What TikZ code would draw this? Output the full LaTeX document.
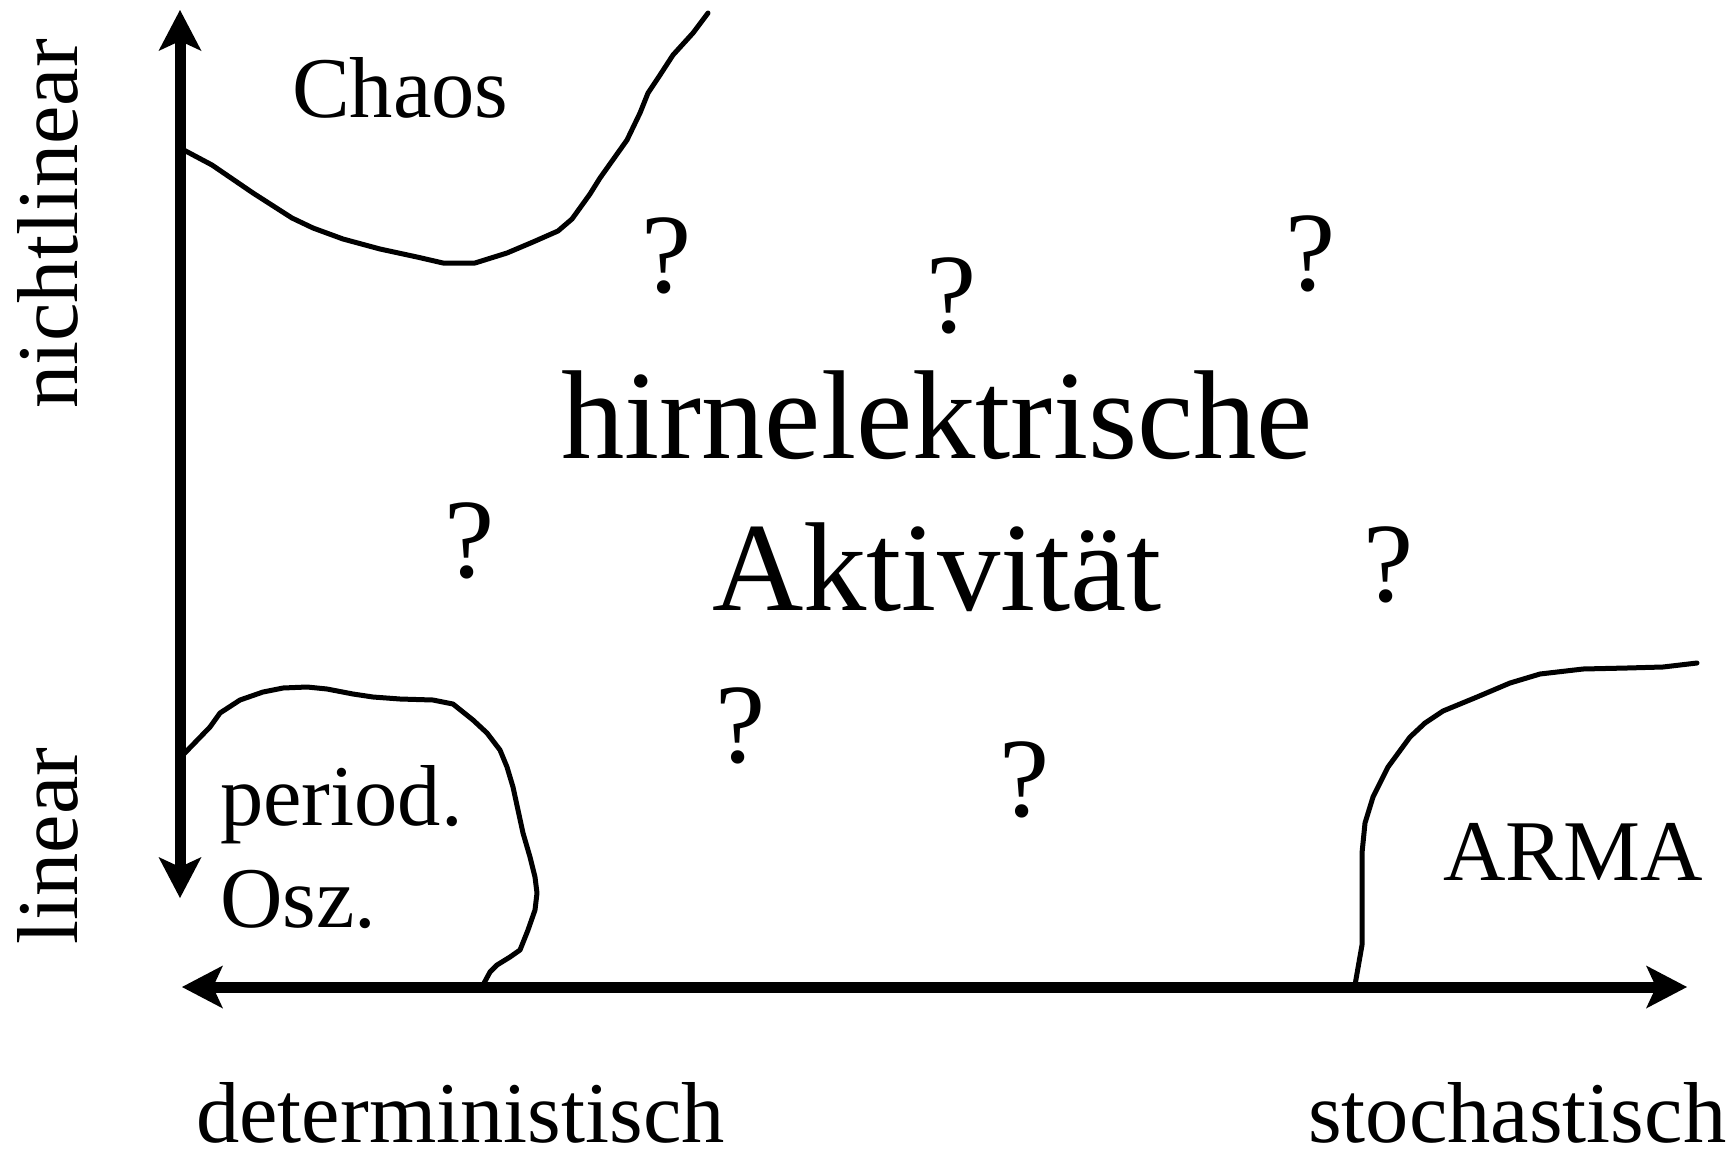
\documentclass[tikz,border=0pt]{standalone}
\usepackage{fontspec}
\setmainfont{Liberation Serif}
\usetikzlibrary{arrows.meta}
\begin{document}
\begin{tikzpicture}[x=1pt,y=-1pt,
  tip/.tip={Stealth[length=41pt,width=43pt,inset=10pt,line width=0pt]},
  axis/.style={line width=11pt,tip-tip},
  region/.style={line width=5pt,line join=round,line cap=round},
  lbl/.style={inner sep=0pt,anchor=base west,font=\fontsize{86.5}{104}\selectfont},
  side/.style={inner sep=0pt,anchor=base,rotate=90,font=\fontsize{86.5}{104}\selectfont},
  big/.style={inner sep=0pt,anchor=base,font=\fontsize{126.5}{151}\selectfont},
  qm/.style={inner sep=0pt,anchor=base,font=\fontsize{113}{136}\selectfont}]
\useasboundingbox (0,0) rectangle (1735,1149);

% axes
\coordinate (ytop) at (180,10);
\coordinate (ybot) at (180,898);
\coordinate (xleft) at (182,987);
\coordinate (xright) at (1687,987);
\draw[axis] (ytop) -- (ybot);
\draw[axis] (xleft) -- (xright);

% region boundaries
\draw[region] (180,148) -- (212,165) -- (253,193) -- (292,218) -- (313,228)
  -- (343,239) -- (380,249) -- (417,257) -- (443,263) -- (475,263) -- (507,253)
  -- (533,242) -- (558,231) -- (572,219) -- (590,194) -- (600,178) -- (627,140)
  -- (640,113) -- (648,93) -- (660,75) -- (673,55) -- (693,33) -- (708,13);

\draw[region] (180,758) -- (210,727) -- (220,713) -- (240,700) -- (263,692)
  -- (283,688) -- (307,687) -- (327,689) -- (353,694) -- (373,697) -- (400,699)
  -- (433,700) -- (453,704) -- (473,720) -- (487,733) -- (500,750) -- (507,767)
  -- (513,787) -- (518,810) -- (523,833) -- (530,857) -- (535,877) -- (537,893)
  -- (535,910) -- (528,930) -- (520,950) -- (510,957) -- (497,965) -- (490,972)
  -- (483,985);

\draw[region] (1355,985) -- (1362,945) -- (1362,913) -- (1362,873) -- (1362,853)
  -- (1365,823) -- (1373,797) -- (1388,767) -- (1410,737) -- (1425,723)
  -- (1443,711) -- (1477,697) -- (1510,683) -- (1540,674) -- (1583,669)
  -- (1627,668) -- (1663,667) -- (1697,663);

% labels
\node[lbl] (chaos) at (292,117) {Chaos};
\node[lbl] (period) at (220,825) {period.};
\node[lbl] (osz) at (220,927) {Osz.};
\node[lbl] (arma) at (1443,880) {ARMA};
\node[lbl] (det) at (196,1142) {deterministisch};
\node[lbl] (stoch) at (1308,1142) {stochastisch};
\node[side] (nonlin) at (77,224) {nichtlinear};
\node[side] (lin) at (77,846) {linear};

\node[big] (hirn) at (937,458) {hirnelektrische};
\node[big] (akt) at (937,610) {Aktivität};

\node[qm] (q1) at (667,292) {?};
\node[qm] (q2) at (952,332) {?};
\node[qm] (q3) at (1311,290) {?};
\node[qm] (q4) at (470,577) {?};
\node[qm] (q5) at (1389,601) {?};
\node[qm] (q6) at (741,762) {?};
\node[qm] (q7) at (1025,816) {?};
\end{tikzpicture}
\end{document}
